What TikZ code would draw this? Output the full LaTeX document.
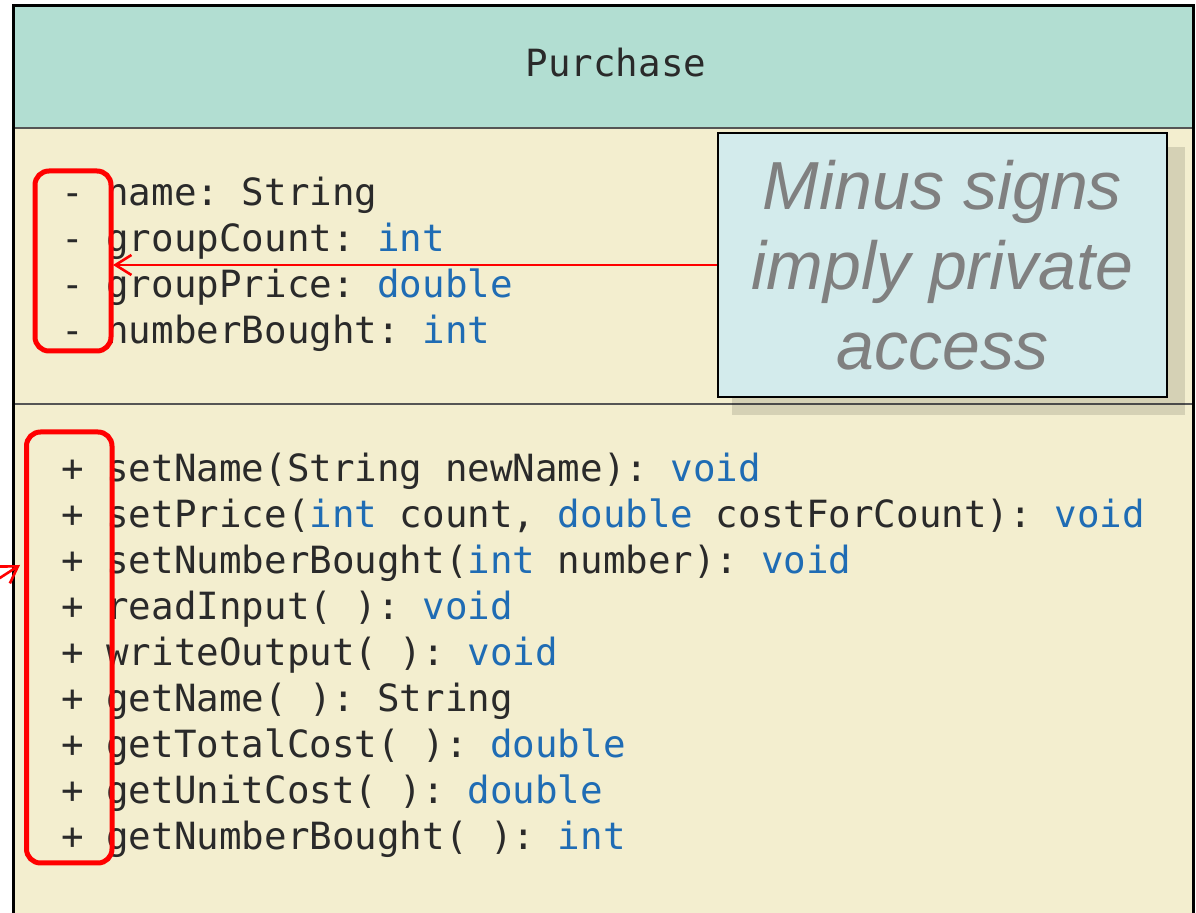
\documentclass[tikz,border=0pt]{standalone}
\usepackage{fontspec}
\newfontfamily\monof{DejaVu Sans Mono}
\newfontfamily\calloutf{Liberation Sans}
\usetikzlibrary{arrows.meta}
\definecolor{hdrc}{HTML}{B2DED2}
\definecolor{bodyc}{HTML}{F3EECF}
\definecolor{callfill}{HTML}{D3EBEC}
\definecolor{kwc}{HTML}{1F6CB4}
\definecolor{txtc}{HTML}{2A2A2A}
\definecolor{calltxt}{HTML}{808080}
\definecolor{linec}{HTML}{555555}
\newcommand\kwd[1]{\textcolor{kwc}{#1}}
\frenchspacing
\tikzset{
  memb/.style={anchor=base west, inner sep=0pt, text=txtc, font=\fontsize{18.75}{23}\monof\frenchspacing},
  sign/.style={anchor=base, inner sep=0pt, text=txtc, font=\fontsize{18.75}{23}\monof\frenchspacing},
  redbox/.style={draw=red, line width=2.5pt, rounded corners=7pt},
  redarrow/.style={draw=red, line width=1.3pt, -{Straight Barb[length=8pt,width=10pt,line width=1.3pt]}},
  calloutbox/.style={draw=black, line width=1.2pt, fill=callfill, minimum width=224.5pt, minimum height=132pt, inner sep=0pt, align=center, text=calltxt, font=\fontsize{34}{40}\calloutf\itshape}
}
\begin{document}
\begin{tikzpicture}[x=0.5pt,y=-0.5pt]
\useasboundingbox (0,0) rectangle (1196,913);
\clip (0,0) rectangle (1196,913);
\fill[white] (0,0) rectangle (1196,913);
% class box
\fill[hdrc] (13,6) rectangle (1193,128);
\fill[bodyc] (13,128) rectangle (1193,930);
\draw[linec, line width=1pt] (13,128) -- (1193,128);
\draw[linec, line width=1pt] (13,404) -- (1193,404);
\draw[black, line width=1.5pt] (13,930) -- (13,6) -- (1193,6) -- (1193,930);
% header
\node[sign] (title) at (616,77) {Purchase};
% attributes
\foreach \y/\n/\t in {206/a1/{name: String}, 252/a2/{groupCount: \kwd{int}}, 298/a3/{groupPrice: \kwd{double}}, 344/a4/{numberBought: \kwd{int}}}{
  \node[sign] (s\n) at (73,\y) {-};
  \node[memb] (\n) at (106,\y) {\t};
}
% methods
\foreach \y/\n/\t in {
  482/m1/{setName(String newName): \kwd{void}},
  528/m2/{setPrice(\kwd{int} count, \kwd{double} costForCount): \kwd{void}},
  574/m3/{setNumberBought(\kwd{int} number): \kwd{void}},
  620/m4/{readInput( ): \kwd{void}},
  666/m5/{writeOutput( ): \kwd{void}},
  712/m6/{getName( ): String},
  758/m7/{getTotalCost( ): \kwd{double}},
  804/m8/{getUnitCost( ): \kwd{double}},
  850/m9/{getNumberBought( ): \kwd{int}}}{
  \node[sign] (s\n) at (73,\y) {+};
  \node[memb] (\n) at (106,\y) {\t};
}
% red highlight boxes
\draw[redbox] (35,171) rectangle (111,351);
\draw[redbox] (26.5,432) rectangle (112,863);
% callout
\fill[black, opacity=0.12] (732,147) rectangle (1185,415);
\node[calloutbox] (callout) at (942.5,265) {Minus signs\\imply private\\access};
\coordinate (tipA) at (113,265);
\draw[redarrow] (callout.west) -- (tipA);
% left arrow
\coordinate (freeB) at (-22,592);
\coordinate (tipB) at (20,565);
\draw[redarrow] (freeB) -- (tipB);
\end{tikzpicture}
\end{document}
